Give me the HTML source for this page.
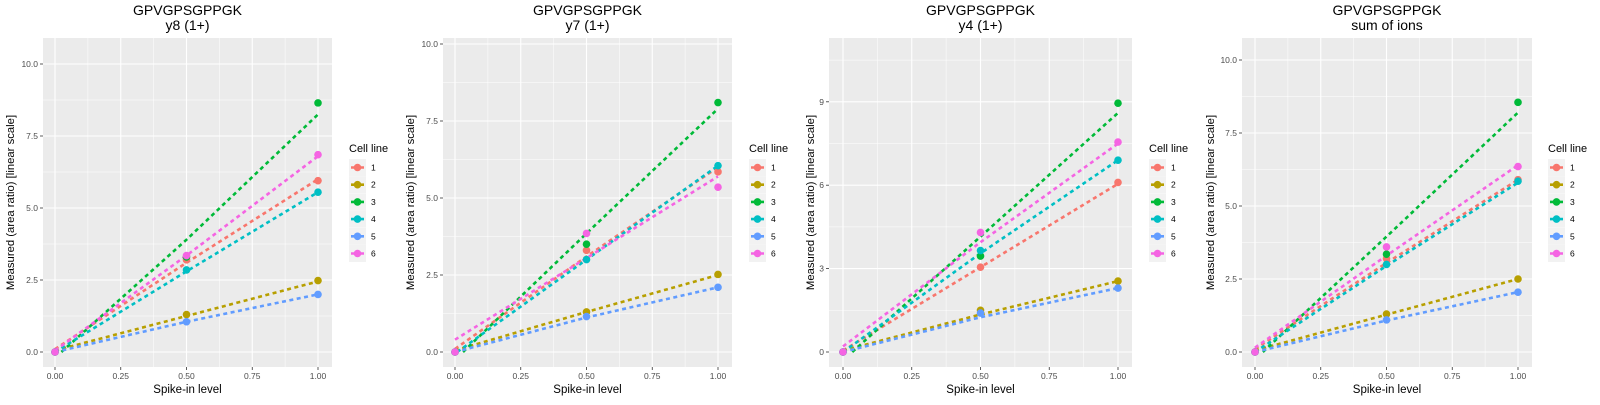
<!DOCTYPE html>
<html><head><meta charset="utf-8"><style>
body{margin:0;background:#fff;}
svg text{font-family:"Liberation Sans",sans-serif;}
</style></head><body>
<svg id="s" width="1600" height="400" xmlns="http://www.w3.org/2000/svg"></svg>
<script>
const C=["#F8766D","#B79F00","#00BA38","#00BFC4","#619CFF","#F564E3"];
const P=[
 {sub:"y8 (1+)",pl:43,pr:332,x0:55,x1:318,y0:352,unit:28.8,ticks:[0,2.5,5,7.5,10],lab:["0.0","2.5","5.0","7.5","10.0"],yo:33,lg:349,
  p5:[3.2,1.3,3.3,2.85,1.05,3.35],p1:[5.95,2.48,8.65,5.55,2.0,6.85],
  f0:[0.1,0.05,-0.2,0,0,0.05],f5:[3.1,1.25,3.9,2.8,1.05,3.35],f1:[6.0,2.45,8.25,5.55,2.0,6.8]},
 {sub:"y7 (1+)",pl:443,pr:732,x0:455,x1:718,y0:352,unit:30.8,ticks:[0,2.5,5,7.5,10],lab:["0.0","2.5","5.0","7.5","10.0"],yo:33,lg:749,
  p5:[3.3,1.3,3.5,3.0,1.15,3.85],p1:[5.85,2.52,8.1,6.05,2.1,5.35],
  f0:[0.1,0.05,-0.25,-0.05,0,0.4],f5:[3.1,1.3,3.85,3.0,1.12,3.05],f1:[6.0,2.5,7.9,6.05,2.1,5.7]},
 {sub:"y4 (1+)",pl:829,pr:1132,x0:843,x1:1118,y0:352,unit:27.8,ticks:[0,3,6,9],lab:["0","3","6","9"],yo:19,lg:1149,
  p5:[3.05,1.5,3.45,3.65,1.4,4.3],p1:[6.1,2.55,8.95,6.9,2.3,7.55],
  f0:[0.05,0.05,-0.3,0,0,0.2],f5:[3.05,1.35,4.15,3.55,1.25,3.95],f1:[6.05,2.55,8.6,6.9,2.3,7.5]},
 {sub:"sum of ions",pl:1242,pr:1532,x0:1255,x1:1518,y0:352,unit:29.2,ticks:[0,2.5,5,7.5,10],lab:["0.0","2.5","5.0","7.5","10.0"],yo:32,lg:1548,
  p5:[3.2,1.3,3.35,3.0,1.1,3.6],p1:[5.9,2.5,8.55,5.85,2.05,6.35],
  f0:[0.1,0.05,-0.25,0,0,0.15],f5:[3.05,1.28,3.95,2.95,1.08,3.3],f1:[5.9,2.5,8.2,5.8,2.05,6.4]}
];
let h="";
for(const p of P){
 const X=v=>p.x0+(p.x1-p.x0)*v, Y=v=>p.y0-p.unit*v;
 const top=38,bot=367;
 h+=`<rect x="${p.pl}" y="${top}" width="${p.pr-p.pl}" height="${bot-top}" fill="#EBEBEB"/>`;
 const st=p.ticks[1]-p.ticks[0];
 for(let v=-st/2;Y(v)>top;v+=st){if(Y(v)<bot)h+=`<line x1="${p.pl}" x2="${p.pr}" y1="${Y(v)}" y2="${Y(v)}" stroke="#fff" stroke-width="0.5"/>`;}
 for(const v of [0.125,0.375,0.625,0.875])h+=`<line x1="${X(v)}" x2="${X(v)}" y1="${top}" y2="${bot}" stroke="#fff" stroke-width="0.5"/>`;
 for(const v of p.ticks){h+=`<line x1="${p.pl}" x2="${p.pr}" y1="${Y(v)}" y2="${Y(v)}" stroke="#fff" stroke-width="1.1"/>`;
  h+=`<line x1="${p.pl-3}" x2="${p.pl}" y1="${Y(v)}" y2="${Y(v)}" stroke="#333" stroke-width="0.8"/>`;}
 p.ticks.forEach((v,i)=>h+=`<text x="${p.pl-5}" y="${Y(v)+3}" font-size="8.5" fill="#4d4d4d" text-anchor="end">${p.lab[i]}</text>`);
 [0,0.25,0.5,0.75,1].forEach(v=>{h+=`<line x1="${X(v)}" x2="${X(v)}" y1="${top}" y2="${bot}" stroke="#fff" stroke-width="1.1"/>`;
  h+=`<line x1="${X(v)}" x2="${X(v)}" y1="${bot}" y2="${bot+3}" stroke="#333" stroke-width="0.8"/>`;
  h+=`<text x="${X(v)}" y="${bot+12}" font-size="8.5" fill="#4d4d4d" text-anchor="middle">${v.toFixed(2)}</text>`;});
 const cx=(p.pl+p.pr)/2;
 h+=`<text x="${cx}" y="393" font-size="11.5" text-anchor="middle">Spike-in level</text>`;
 h+=`<text transform="translate(${p.pl-p.yo+4},${(top+bot)/2}) rotate(-90)" font-size="11.3" text-anchor="middle">Measured (area ratio) [linear scale]</text>`;
 h+=`<text x="${cx}" y="15" font-size="14" text-anchor="middle">GPVGPSGPPGK</text>`;
 h+=`<text x="${cx}" y="30" font-size="14" text-anchor="middle">${p.sub}</text>`;
 for(let i=0;i<6;i++){
  const a=p.f0[i],b=p.f5[i],c=p.f1[i];
  let x0=0,y0=a; if(a<0){x0=-a/(b-a)*0.5;y0=0;}
  h+=`<polyline points="${X(x0)},${Y(y0)} ${X(0.5)},${Y(b)} ${X(1)},${Y(c)}" fill="none" stroke="${C[i]}" stroke-width="2.6" stroke-dasharray="4 3.5"/>`;
 }
 for(let i=0;i<6;i++){
  h+=`<circle cx="${X(0)}" cy="${Y(0)}" r="3.8" fill="${C[i]}"/>`;
  h+=`<circle cx="${X(0.5)}" cy="${Y(p.p5[i])}" r="3.8" fill="${C[i]}"/>`;
  h+=`<circle cx="${X(1)}" cy="${Y(p.p1[i])}" r="3.8" fill="${C[i]}"/>`;
 }
 h+=`<text x="${p.lg}" y="152" font-size="11">Cell line</text>`;
 for(let i=0;i<6;i++){const ky=159+i*17.2;
  h+=`<rect x="${p.lg}" y="${ky}" width="17" height="17" fill="#F2F2F2"/>`;
  h+=`<line x1="${p.lg+2}" x2="${p.lg+15}" y1="${ky+8.5}" y2="${ky+8.5}" stroke="${C[i]}" stroke-width="2.6" stroke-dasharray="4 1"/>`;
  h+=`<circle cx="${p.lg+8.5}" cy="${ky+8.5}" r="3.8" fill="${C[i]}"/>`;
  h+=`<text x="${p.lg+22}" y="${ky+11.5}" font-size="8.5">${i+1}</text>`;}
}
document.getElementById("s").innerHTML=h;
</script>
</body></html>
